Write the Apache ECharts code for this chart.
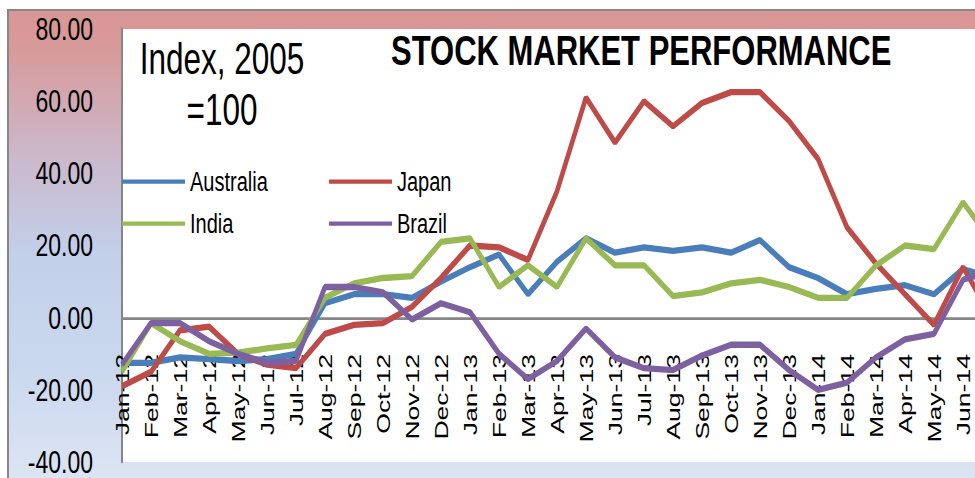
<!DOCTYPE html>
<html>
<head>
<meta charset="utf-8">
<title>Stock market performance</title>
<script src="https://cdn.jsdelivr.net/npm/echarts@6/dist/echarts.min.js"></script>
<style>
	html, body { margin: 0; padding: 0; background: #fff; overflow: hidden; }
	#frame {
		position: absolute; left: 7px; top: 9px; width: 1000px; height: 480px;
		border-top: 2px solid #878787; border-left: 2px solid #878787;
		background: linear-gradient(to bottom, #d99694 0%, #d89a9a 8%, #cbb8cb 30%, #c2cfe9 50%, #cad8ef 75%, #dee6f3 100%);
	}
	/* the original picture is stretched vertically, so draw flat and stretch */
	#visit {
		position: absolute; left: 0; top: 0; width: 975px; height: 342px;
		transform: scaleY(1.39766); transform-origin: 0 0;
	}
</style>
</head>
<body>
<div id="frame"></div>
<div id="visit"></div>
<script>
	var months = ['Jan-12','Feb-12','Mar-12','Apr-12','May-12','Jun-12','Jul-12','Aug-12','Sep-12','Oct-12','Nov-12','Dec-12',
		'Jan-13','Feb-13','Mar-13','Apr-13','May-13','Jun-13','Jul-13','Aug-13','Sep-13','Oct-13','Nov-13','Dec-13',
		'Jan-14','Feb-14','Mar-14','Apr-14','May-14','Jun-14','Jul-14'];
	var australia = [-12.5,-12.5,-11,-11.5,-12,-11.5,-10,4,6.5,6.5,5.5,10,14,17.5,6.5,15.5,22,18,19.5,18.5,19.5,18,21.5,14,11,6.5,8,9,6.5,13.5,11];
	var japan = [-19,-15,-3.5,-2.5,-10,-13,-14,-4.5,-2,-1.5,3,11,20,19.5,16,35,61,48.5,60,53,59.5,62.5,62.5,54.5,44,25,15,6.5,-2,14,0];
	var india = [-15,-1.5,-6.5,-10,-9.7,-8.5,-7.5,5.5,9.5,11,11.5,21,22,8.5,14.5,8.5,22,14.5,14.5,6,7,9.5,10.5,8.5,5.5,5.5,14.5,20,19,32,21];
	var brazil = [-13,-1.5,-1.5,-6.5,-10,-12.5,-12,8.5,8.5,7,-0.5,4,1.5,-10,-17,-12,-3,-11,-14,-14.5,-10.5,-7.5,-7.5,-14.5,-20,-18,-11,-6,-4.5,10.5,13];
	var yTicks = [-40, -20, 0, 20, 40, 60, 80];

	var font = "'Liberation Sans', Arial, sans-serif";
	var names = ['Australia', 'Japan', 'India', 'Brazil'];
	var colors = ['#4a7ebb', '#be4b48', '#98b954', '#7d60a0'];
	var values = [australia, japan, india, brazil];
	// legend spots: [left, top]
	var spots = [[122, 120], [329, 120], [122, 150], [329, 150]];

	var H = 342, gridTop = 20.7, gridBottom = 11.4;
	var yMin = yTicks[0], yMax = yTicks[yTicks.length - 1];
	// x axis sits on the zero line, labels follow it
	var zeroShift = (0 - yMin) / (yMax - yMin) * (H - gridTop - gridBottom);

	var myChart = echarts.init(document.getElementById('visit'), null, {renderer: 'svg'});

	var option = {
		backgroundColor: 'transparent',
		animation: false,
		color: colors,
		textStyle: {fontFamily: font},
		title: [
			{
				text: 'STOCK MARKET PERFORMANCE',
				left: 391, top: 20, padding: 0,
				textStyle: {fontSize: 31, fontWeight: 'bold', color: '#000', fontFamily: font}
			},
			{
				text: 'Index, 2005\n=100',
				left: 222, top: 24, padding: 0, textAlign: 'center',
				textStyle: {fontSize: 31.5, lineHeight: 36, fontWeight: 'normal', color: '#000', fontFamily: font}
			}
		],
		legend: names.map(function (n, i) {
			return {
				data: [n], left: spots[i][0], top: spots[i][1], padding: 0,
				icon: 'rect', itemWidth: 63, itemHeight: 3, itemGap: 5,
				selectedMode: false,
				textStyle: {fontSize: 20, color: '#000', fontFamily: font}
			};
		}),
		grid: {
			show: true, backgroundColor: '#fff', borderWidth: 0,
			left: 122, top: gridTop, bottom: gridBottom, right: -17,
			containLabel: false, outerBoundsMode: 'none'
		},
		xAxis: {
			type: 'category',
			boundaryGap: false,
			data: months,
			offset: -zeroShift,
			axisLine: {onZero: false, lineStyle: {color: '#868686', width: 2}},
			axisTick: {show: false},
			axisLabel: {rotate: 90, interval: 0, fontSize: 19, margin: 26, color: '#000', fontFamily: font},
			splitLine: {show: false}
		},
		yAxis: {
			type: 'value',
			min: yMin, max: yMax, interval: 20,
			axisLine: {show: true, lineStyle: {color: '#868686', width: 2}},
			axisTick: {show: false},
			splitLine: {show: false},
			axisLabel: {
				fontSize: 23, margin: 29, color: '#000', fontFamily: font,
				formatter: function (v) { return v.toFixed(2); }
			}
		},
		series: names.map(function (n, i) {
			return {
				name: n, type: 'line', data: values[i],
				symbol: 'none', smooth: false,
				lineStyle: {width: 4.5, color: colors[i]},
				itemStyle: {color: colors[i]}
			};
		})
	};
	myChart.setOption(option);
</script>
</body>
</html>
